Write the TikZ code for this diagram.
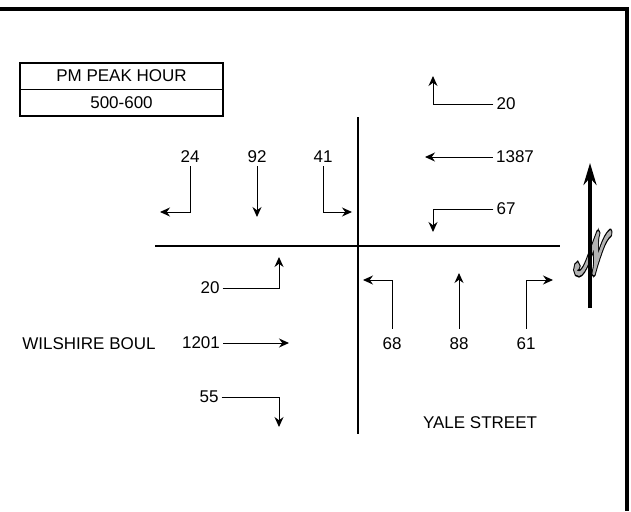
\documentclass[tikz,border=0pt]{standalone}
\usepackage{fontspec}
\setmainfont{Liberation Sans}
\usepackage{mathrsfs,graphicx}
\usetikzlibrary{arrows.meta,positioning}
\newcommand\volfont{\fontsize{17}{20}\selectfont}
% outlined script N: black thick stroke below, grey stroke and fill above
\newcommand\nglyph{\resizebox{38pt}{40pt}{$\mathscr{N}$}}
\newcommand\nsign{\rlap{\color{black}\special{pdf:literal direct 0 G 2 Tr 1.15 w}\nglyph}%
  \special{pdf:literal direct 0.7 G 2 Tr 0.55 w}\nglyph\special{pdf:literal direct 0 Tr}}

\begin{document}
\begin{tikzpicture}[x=1pt,y=-1pt,>=Stealth,
  vol/.style={font=\volfont,inner sep=3pt},
  mv/.style={->,line width=1pt,>={Stealth[length=10pt,width=9pt]}},
  road/.style={line width=2.3pt},
  hdbox/.style={draw,line width=1.5pt,outer sep=0pt,minimum width=203pt,minimum height=26.5pt,font=\volfont}]
\useasboundingbox (0,0) rectangle (631,511);
\draw[line width=4pt] (0,9)--(627,9)--(627,511);
% title box
\node[hdbox] (peak) at (121.5,76) {PM PEAK HOUR};
\node[hdbox,below=0pt of peak] (hours) {500-600};
% streets
\draw[road] (155,246)--(560,246);
\draw[road] (358,117)--(358,434);
\node[vol] (wilshire) at (89,344) {WILSHIRE BOUL};
\node[vol] (yale) at (480,423) {YALE STREET};
% southbound
\node[vol] (sbl) at (190,157) {24};
\node[vol] (sbt) at (257,157) {92};
\node[vol] (sbr) at (323,157) {41};
\coordinate (sblend) at (160,212);
\coordinate (sbtend) at (257,217);
\coordinate (sbrend) at (352,212);
\draw[mv] (sbl.south) |- (sblend);
\draw[mv] (sbt) -- (sbtend);
\draw[mv] (sbr.south) |- (sbrend);
% westbound
\node[vol] (wbr) at (506,104) {20};
\node[vol] (wbt) at (515,157) {1387};
\node[vol] (wbl) at (506,209) {67};
\coordinate (wbrend) at (433,76);
\coordinate (wbtend) at (425,157);
\coordinate (wblend) at (433,232);
\draw[mv] (wbr.west) -| (wbrend);
\draw[mv] (wbt) -- (wbtend);
\draw[mv] (wbl.west) -| (wblend);
% eastbound
\node[vol] (ebl) at (210,288) {20};
\node[vol] (ebt) at (201,343) {1201};
\node[vol] (ebr) at (209,397) {55};
\coordinate (eblend) at (279,257);
\coordinate (ebtend) at (289,343);
\coordinate (ebrend) at (279,427);
\draw[mv] (ebl.east) -| (eblend);
\draw[mv] (ebt) -- (ebtend);
\draw[mv] (ebr.east) -| (ebrend);
% northbound
\node[vol] (nbl) at (392,344) {68};
\node[vol] (nbt) at (459,344) {88};
\node[vol] (nbr) at (526,344) {61};
\coordinate (nblend) at (363,280);
\coordinate (nbtend) at (459,273);
\coordinate (nbrend) at (553,280);
\draw[mv,shorten <=6pt] (nbl.north) |- (nblend);
\draw[mv,shorten <=6pt] (nbt) -- (nbtend);
\draw[mv,shorten <=6pt] (nbr.north) |- (nbrend);
% north sign
\node[gray!60,inner sep=0pt] (nsign) at (593,253) {\nsign};
\coordinate (ntail) at (590,308);
\coordinate (ntip) at (590,163);
\draw[line width=3.5pt,-{Stealth[length=22pt,width=13pt]}] (ntail)--(ntip);
\end{tikzpicture}
\end{document}
